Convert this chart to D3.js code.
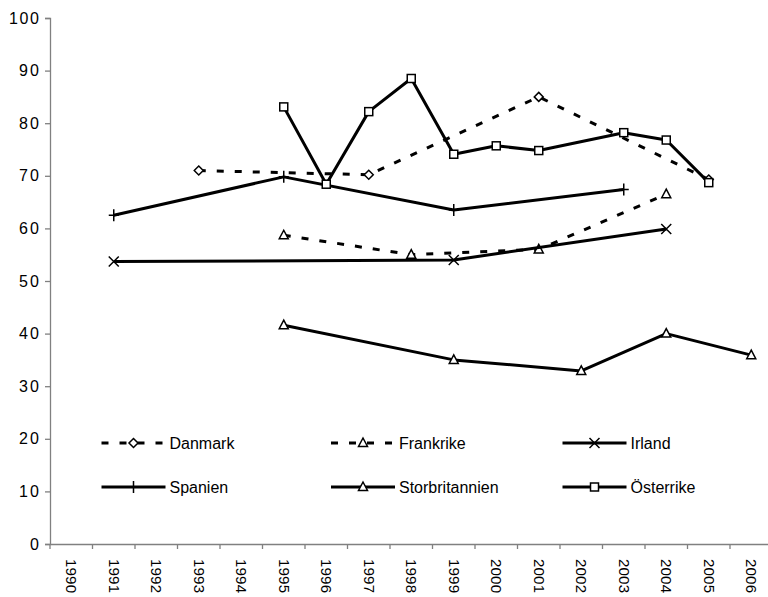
<!DOCTYPE html>
<html><head><meta charset="utf-8">
<script src="https://cdn.jsdelivr.net/npm/d3@7"></script>
<style>body{margin:0;background:#fff}svg{display:block;font-family:"Liberation Sans",Arial,sans-serif}
.tick text{font-family:"Liberation Sans",Arial,sans-serif !important}</style>
</head><body>
<svg id="c" width="768" height="597"></svg>
<script>
const years = ["1990","1991","1992","1993","1994","1995","1996","1997","1998","1999","2000","2001","2002","2003","2004","2005","2006"];
const yTicks = [0,10,20,30,40,50,60,70,80,90,100];
const danmark        = [null,null,null,71.0,null,null,null,70.2,null,null,null,85.0,null,null,null,69.3,null];
const frankrike      = [null,null,null,null,null,58.7,null,null,55.0,null,null,56.0,null,null,66.5,null,null];
const irland         = [null,53.7,null,null,null,null,null,null,null,54.0,null,null,null,null,59.9,null,null];
const spanien        = [null,62.5,null,null,null,69.8,null,null,null,63.5,null,null,null,67.4,null,null,null];
const storbritannien = [null,null,null,null,null,41.6,null,null,null,35.0,null,null,32.9,null,40.0,null,35.9];
const osterrike      = [null,null,null,null,null,83.1,68.4,82.2,88.5,74.1,75.7,74.8,null,78.2,76.8,68.7,null];
const seriesNames = ["Danmark","Frankrike","Irland","Spanien","Storbritannien","Österrike"];

const series = [
  {name: seriesNames[0], values: danmark, dash: "7,11", marker: "diamond"},
  {name: seriesNames[1], values: frankrike, dash: "7,11", marker: "triangle"},
  {name: seriesNames[2], values: irland, dash: null, marker: "x"},
  {name: seriesNames[3], values: spanien, dash: null, marker: "plus"},
  {name: seriesNames[4], values: storbritannien, dash: null, marker: "triangle"},
  {name: seriesNames[5], values: osterrike, dash: null, marker: "square"}
];

const svg = d3.select("#c");
const x = d3.scaleBand().domain(years).range([50, 772.5]).paddingInner(0).paddingOuter(0);
const y = d3.scaleLinear().domain([0,100]).range([544,18]);
const axisColor = "#808080";

// y axis
const ya = svg.append("g").attr("transform","translate(50,0)")
  .call(d3.axisLeft(y).tickValues(yTicks).tickSize(5).tickPadding(6).tickFormat(d3.format("d")));
ya.attr("font-size",null).attr("font-family",null);
ya.select(".domain").attr("stroke",axisColor).attr("stroke-width",1.3);
ya.selectAll(".tick line").attr("stroke",axisColor).attr("stroke-width",1.3);
ya.selectAll(".tick text").style("font-size","16px").attr("fill","#000").attr("textLength", d => String(d).length*10);

// x axis
const xa = svg.append("g").attr("transform","translate(0,544)")
  .call(d3.axisBottom(x).tickSize(0).tickSizeOuter(0));
xa.attr("font-size",null).attr("font-family",null);
xa.select(".domain").attr("stroke",axisColor).attr("stroke-width",1.3);
xa.selectAll(".tick line").remove();
xa.selectAll(".tick text")
  .style("font-size","15px").attr("fill","#000")
  .attr("text-anchor","start")
  .attr("transform","rotate(90)")
  .attr("x",15).attr("y",0).attr("dy","0.35em")
  .attr("textLength",34);
// band boundary ticks
xa.selectAll("line.bt").data(years).enter().append("line").attr("class","bt")
  .attr("x1",d=>x(d)).attr("x2",d=>x(d)).attr("y1",0).attr("y2",5)
  .attr("stroke",axisColor).attr("stroke-width",1.3);

const cx = i => x(years[i]) + x.bandwidth()/2;

function drawMarker(g, type, px, py) {
  const s = "#000", sw = 1.5;
  if (type === "diamond") {
    g.append("path").attr("d", `M${px},${py-4.5}L${px+4.5},${py}L${px},${py+4.5}L${px-4.5},${py}Z`)
      .attr("fill","#fff").attr("stroke",s).attr("stroke-width",sw);
  } else if (type === "triangle") {
    g.append("path").attr("d", `M${px},${py-5}L${px+4.5},${py+3.5}L${px-4.5},${py+3.5}Z`)
      .attr("fill","#fff").attr("stroke",s).attr("stroke-width",sw);
  } else if (type === "square") {
    g.append("rect").attr("x",px-4).attr("y",py-4).attr("width",8).attr("height",8)
      .attr("fill","#fff").attr("stroke",s).attr("stroke-width",sw);
  } else if (type === "x") {
    g.append("path").attr("d", `M${px-5},${py-5}L${px+5},${py+5}M${px-5},${py+5}L${px+5},${py-5}`)
      .attr("stroke",s).attr("stroke-width",sw).attr("fill","none");
  } else if (type === "plus") {
    g.append("path").attr("d", `M${px-5},${py}L${px+5},${py}M${px},${py-6}L${px},${py+6}`)
      .attr("stroke",s).attr("stroke-width",sw).attr("fill","none");
  }
}

const line = d3.line().x(d=>d[0]).y(d=>d[1]);
series.forEach(s => {
  const g = svg.append("g");
  const pts = s.values.map((v,i)=> v==null ? null : [cx(i), y(v)]).filter(p=>p);
  const p = g.append("path").attr("d", line(pts)).attr("fill","none")
    .attr("stroke","#000").attr("stroke-width",3).attr("stroke-linejoin","round");
  if (s.dash) p.attr("stroke-dasharray", s.dash);
  pts.forEach(pt => drawMarker(g, s.marker, pt[0], pt[1]));
});

// legend
const legCols = [101.5, 331, 562.5];
const legRows = [443, 487];
series.forEach((s, i) => {
  const col = i % 3, row = Math.floor(i / 3);
  const lx = legCols[col], ly = legRows[row];
  const g = svg.append("g");
  const l = g.append("line").attr("x1",lx).attr("x2",lx+64).attr("y1",ly).attr("y2",ly)
    .attr("stroke","#000").attr("stroke-width",3);
  if (s.dash) l.attr("stroke-dasharray","7,11");
  drawMarker(g, s.marker, lx+32, ly);
  g.append("text").attr("x",lx+68).attr("y",ly).attr("dy","0.36em")
    .style("font-size","16px").attr("fill","#000").text(s.name);
});
</script>
</body></html>
